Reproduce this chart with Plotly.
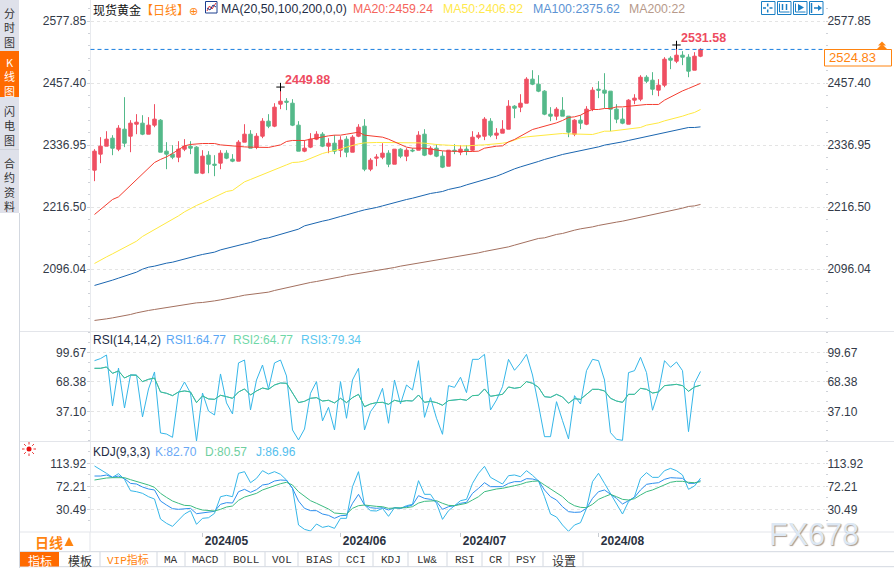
import math
import plotly.graph_objects as go

W, H = 894, 568

# ---- price data ----
opens = [2288.4, 2319.5, 2335.0, 2350.5, 2329.2, 2368.0, 2354.4, 2377.7, 2379.7, 2358.3, 2375.8, 2385.5, 2325.3, 2319.5, 2313.6, 2329.2, 2335.0, 2333.1, 2282.5, 2317.5, 2300.0, 2302.0, 2321.4, 2309.7, 2305.9, 2342.8, 2358.3, 2333.1, 2354.4, 2383.6, 2373.9, 2416.6, 2422.4, 2418.5, 2375.8,
         2325.3, 2333.1, 2348.6, 2358.3, 2335.0, 2340.8, 2327.2, 2348.6, 2323.3, 2354.4, 2373.9, 2290.3, 2311.7, 2313.6, 2321.4, 2300.0, 2329.2, 2315.6, 2327.2, 2327.2, 2358.3, 2319.5, 2331.1, 2315.6, 2296.1, 2327.2, 2323.3, 2329.2, 2327.2, 2352.5, 2354.4, 2383.6, 2356.4, 2360.3, 2368.0, 2412.7, 2410.8, 2418.5, 2465.2, 2455.4, 2441.9, 2397.2, 2393.3, 2405.0, 2393.3, 2358.3, 2385.5, 2377.7, 2406.9, 2445.7,
         2443.8, 2441.9, 2406.9, 2387.5, 2377.7, 2424.4, 2426.3, 2469.0, 2463.2, 2443.8, 2453.5, 2506.0, 2500.1, 2511.8, 2507.9, 2482.6, 2509.8]
highs = [2329.2, 2352.5, 2364.1, 2356.4, 2375.8, 2430.2, 2385.5, 2397.2, 2395.2, 2391.4, 2416.6, 2387.5, 2342.8, 2336.9, 2344.7, 2348.6, 2344.7, 2335.0, 2327.2, 2325.3, 2317.5, 2327.2, 2327.2, 2319.5, 2346.7, 2377.7, 2366.1, 2360.3, 2389.4, 2397.2, 2418.5, 2449.88, 2428.3, 2426.3, 2383.6,
         2346.7, 2360.3, 2364.1, 2362.2, 2350.5, 2356.4, 2354.4, 2354.4, 2356.4, 2377.7, 2387.5, 2311.7, 2319.5, 2340.8, 2327.2, 2329.2, 2331.1, 2331.1, 2331.1, 2364.1, 2368.0, 2335.0, 2338.9, 2325.3, 2327.2, 2338.9, 2336.9, 2336.9, 2364.1, 2362.2, 2391.4, 2389.4, 2370.0, 2385.5, 2424.4, 2414.7, 2436.0, 2469.0, 2482.6, 2472.9, 2443.8, 2410.8, 2410.8, 2430.2, 2393.3, 2387.5, 2395.2, 2412.7, 2449.6, 2461.3,
         2476.8, 2441.9, 2416.6, 2408.8, 2426.3, 2436.0, 2472.9, 2472.9, 2478.8, 2465.2, 2507.9, 2509.8, 2531.58, 2519.6, 2513.7, 2517.6, 2525.4]
lows = [2267.0, 2302.0, 2335.0, 2317.5, 2325.3, 2333.1, 2323.3, 2358.3, 2356.4, 2358.3, 2371.9, 2323.3, 2290.3, 2309.7, 2303.9, 2325.3, 2319.5, 2282.5, 2280.6, 2282.5, 2276.7, 2290.3, 2309.7, 2303.9, 2305.9, 2342.8, 2331.1, 2329.2, 2350.5, 2370.0, 2371.9, 2406.9, 2405.0, 2373.9, 2325.3,
        2323.3, 2331.1, 2346.7, 2333.1, 2321.4, 2319.5, 2313.6, 2313.6, 2323.3, 2352.5, 2286.4, 2286.4, 2296.1, 2309.7, 2294.2, 2300.0, 2311.7, 2305.9, 2323.3, 2327.2, 2315.6, 2317.5, 2313.6, 2292.3, 2296.1, 2319.5, 2317.5, 2317.5, 2325.3, 2348.6, 2346.7, 2352.5, 2348.6, 2360.3, 2368.0, 2389.4, 2401.1, 2418.5, 2453.5, 2439.9, 2395.2, 2383.6, 2385.5, 2393.3, 2352.5, 2354.4, 2368.0, 2375.8, 2403.0, 2428.3,
        2408.8, 2364.1, 2379.7, 2377.7, 2377.7, 2416.6, 2422.4, 2457.4, 2434.1, 2432.1, 2449.6, 2484.6, 2496.3, 2492.4, 2469.0, 2482.6, 2507.9]
closes = [2325.3, 2335.0, 2348.6, 2331.1, 2370.0, 2340.8, 2379.7, 2381.6, 2358.3, 2375.8, 2387.5, 2323.3, 2319.5, 2313.6, 2329.2, 2335.0, 2331.1, 2282.5, 2315.6, 2300.0, 2298.1, 2321.4, 2311.7, 2305.9, 2342.8, 2358.3, 2331.1, 2354.4, 2383.6, 2373.9, 2410.8, 2422.4, 2420.5, 2375.8, 2325.3,
          2331.1, 2348.6, 2358.3, 2335.0, 2340.8, 2325.3, 2346.7, 2323.3, 2352.5, 2371.9, 2290.3, 2307.8, 2313.6, 2321.4, 2300.0, 2329.2, 2315.6, 2327.2, 2325.9, 2356.4, 2317.5, 2331.1, 2315.6, 2294.2, 2327.2, 2325.3, 2329.2, 2325.3, 2352.5, 2356.4, 2387.5, 2356.4, 2360.3, 2368.0, 2412.7, 2408.8, 2418.5, 2465.2, 2455.4, 2441.9, 2397.2, 2393.3, 2406.9, 2393.3, 2362.2, 2385.5, 2379.7, 2406.9, 2443.8, 2443.8,
          2438.0, 2406.9, 2387.5, 2379.7, 2424.4, 2428.3, 2469.0, 2461.3, 2445.7, 2453.5, 2504.0, 2502.1, 2511.8, 2507.9, 2480.7, 2509.8, 2523.0]

ma20 = [2202.3, 2212.0, 2222.3, 2231.4, 2236.5, 2247.6, 2259.2, 2270.9, 2282.0, 2291.7, 2303.3, 2309.2, 2314.2, 2320.8, 2328.6, 2335.6, 2338.3, 2339.5, 2340.2, 2340.2, 2340.2, 2337.5, 2336.4, 2334.4, 2334.4, 2333.6, 2333.1, 2332.5, 2332.5, 2332.5, 2335.0, 2337.5, 2344.1, 2346.1, 2346.1,
        2346.1, 2348.6, 2351.1, 2353.1, 2355.0, 2356.4, 2356.4, 2358.3, 2360.3, 2362.2, 2356.4, 2355.0, 2354.4, 2352.5, 2348.6, 2343.4, 2338.9, 2333.1, 2331.1, 2331.1, 2331.1, 2329.2, 2327.2, 2325.9, 2325.3, 2324.7, 2324.7, 2324.7, 2324.7, 2325.3, 2331.1, 2333.1, 2335.0, 2335.6, 2343.4, 2348.0, 2354.4, 2361.6, 2367.4, 2370.6, 2373.9, 2375.8, 2380.3, 2384.9, 2390.8, 2392.0, 2395.2, 2401.6, 2406.3, 2406.3,
        2408.2, 2408.2, 2411.3, 2411.3, 2412.7, 2414.1, 2416.0, 2416.0, 2416.0, 2416.0, 2424.4, 2430.8, 2436.0, 2442.4, 2447.1, 2451.6, 2457.0]
ma50 = [2107.1, 2114.1, 2119.9, 2125.8, 2131.6, 2138.2, 2143.3, 2150.4, 2159.6, 2166.0, 2173.2, 2179.6, 2186.0, 2193.2, 2199.6, 2207.4, 2214.0, 2219.8, 2224.9, 2230.7, 2236.5, 2241.8, 2247.0, 2249.0, 2257.3, 2265.7, 2270.3, 2274.8, 2280.0, 2285.1, 2289.8, 2293.6, 2298.7, 2303.3, 2303.9,
        2306.4, 2311.1, 2315.6, 2320.8, 2323.9, 2325.9, 2329.2, 2333.1, 2337.0, 2339.5, 2341.4, 2342.2, 2342.2, 2342.2, 2342.2, 2342.8, 2341.4, 2341.4, 2341.4, 2341.4, 2340.8, 2338.9, 2338.3, 2337.5, 2336.4, 2336.4, 2335.6, 2335.6, 2335.6, 2337.0, 2337.5, 2338.3, 2339.5, 2340.8, 2342.8, 2346.7, 2351.1, 2353.1, 2354.4, 2355.8, 2356.4, 2358.3, 2359.7, 2359.7, 2358.9, 2358.3, 2358.3, 2357.7, 2357.7, 2360.8,
        2364.1, 2364.1, 2365.5, 2366.1, 2367.4, 2369.4, 2371.3, 2375.8, 2377.7, 2380.3, 2384.2, 2386.9, 2390.0, 2393.3, 2397.2, 2400.5, 2406.3]
ma100 = [2064.4, 2067.5, 2071.4, 2074.7, 2078.6, 2082.4, 2086.3, 2090.2, 2096.0, 2099.9, 2101.9, 2105.2, 2107.7, 2109.6, 2113.0, 2116.0, 2119.4, 2121.9, 2124.6, 2126.5, 2129.1, 2133.5, 2136.8, 2138.8, 2142.1, 2145.2, 2147.9, 2151.8, 2154.9, 2156.9, 2160.2, 2164.0, 2166.6, 2169.9, 2173.8,
         2180.2, 2183.5, 2186.0, 2189.3, 2191.8, 2195.7, 2198.4, 2201.5, 2204.2, 2208.1, 2211.2, 2213.2, 2215.9, 2219.0, 2222.3, 2225.6, 2228.1, 2231.4, 2233.9, 2237.3, 2239.8, 2243.1, 2245.0, 2247.0, 2250.9, 2252.8, 2255.9, 2259.8, 2263.1, 2266.4, 2269.5, 2274.2, 2276.7,
         2281.2, 2286.4, 2290.9, 2294.8, 2298.1, 2300.6, 2305.3, 2309.2, 2313.0, 2315.6, 2318.9, 2321.4, 2323.9, 2325.3, 2327.8, 2331.1, 2333.6, 2337.0, 2338.9, 2341.4, 2343.4, 2346.1, 2348.6, 2351.1, 2353.9, 2357.0, 2359.7, 2362.2, 2363.6, 2366.1, 2369.4, 2371.3, 2371.3, 2372.5]
ma200 = [1996.4, 1997.5, 1999.5, 2001.4, 2003.4, 2005.3, 2008.0, 2011.1, 2013.9, 2015.8, 2017.7, 2019.7, 2020.9, 2022.8, 2025.5, 2028.0, 2029.4, 2030.6, 2031.3, 2032.5, 2034.4, 2036.4, 2038.3, 2041.0, 2043.0, 2045.5, 2046.9, 2048.1, 2050.0, 2051.4, 2054.6, 2057.2, 2059.7, 2062.4, 2065.5,
         2068.9, 2070.2, 2072.1, 2074.1, 2076.6, 2078.6, 2081.1, 2083.8, 2085.7, 2087.7, 2088.9, 2090.8, 2092.7, 2094.7, 2097.4, 2099.3, 2101.9, 2103.8, 2105.8, 2107.7, 2109.1, 2111.0, 2113.5, 2114.9, 2117.4, 2118.8, 2121.3, 2122.6, 2124.6, 2127.7, 2130.4, 2132.4, 2134.9,
         2137.4, 2139.4, 2142.7, 2146.0, 2148.5, 2152.4, 2155.7, 2156.9, 2160.8, 2163.5, 2165.4, 2169.3, 2171.8, 2174.4, 2175.7, 2178.2, 2181.0, 2183.5, 2186.0, 2187.4, 2189.3, 2191.8, 2193.8, 2196.5, 2199.6, 2201.5, 2203.5, 2206.2, 2209.3, 2212.0, 2214.6, 2217.9, 2219.0, 2221.8]

rsi2 = [82.7, 82.7, 84.1, 77.4, 79.9, 72.4, 75.6, 75.3, 68.6, 71.0, 72.4, 57.6, 56.2, 53.7, 57.6, 58.7, 57.6, 46.3, 53.4, 50.2, 49.8, 54.1, 52.6, 50.9, 57.6, 60.8, 54.4, 58.7, 61.8, 60.4, 65.0, 67.1, 66.8, 56.2, 46.3,
        47.7, 50.9, 51.6, 48.0, 48.8, 46.0, 50.9, 46.3, 51.6, 55.1, 42.0, 44.9, 46.3, 46.6, 44.5, 48.8, 47.3, 48.4, 48.0, 54.4, 46.6, 47.7, 46.3, 43.5, 48.4, 48.8, 49.8, 48.8, 53.7, 54.1, 60.8, 53.0, 54.4, 55.1, 62.9, 61.5, 62.5, 68.6, 66.8, 62.5, 52.6, 51.9, 55.1, 52.3, 45.6, 50.5, 49.8, 55.5, 60.4, 60.4,
        58.7, 50.9, 48.0, 46.6, 55.1, 55.1, 61.5, 60.4, 56.5, 57.6, 64.3, 65.0, 65.7, 64.3, 58.3, 62.9, 64.77]
rsi3 = [90.8, 93.0, 96.8, 42.7, 83.0, 40.6, 75.6, 75.6, 31.1, 60.8, 78.8, 14.1, 13.0, 9.5, 56.5, 68.2, 56.5, 5.6, 56.5, 37.4, 33.2, 76.7, 46.0, 34.3, 88.4, 91.5, 38.5, 70.3, 86.2, 60.8, 88.4, 91.5, 74.6, 17.3, 6.7,
        18.3, 56.2, 68.6, 26.9, 41.3, 17.3, 68.6, 29.7, 70.3, 82.7, 17.3, 36.7, 45.6, 61.5, 24.4, 70.3, 44.9, 65.0, 59.7, 90.8, 30.7, 51.6, 29.7, 12.7, 64.3, 62.5, 73.2, 56.9, 92.2, 92.2, 97.5, 38.5, 49.1, 63.2, 92.2, 80.6, 88.0, 97.5, 75.6, 43.8, 10.2, 10.2, 47.3, 27.2, 7.8, 53.7, 44.9, 80.2, 92.2, 90.8,
        70.3, 14.5, 7.4, 6.3, 78.1, 80.2, 94.4, 78.1, 38.2, 58.0, 90.8, 83.8, 89.4, 80.2, 15.5, 66.8, 79.34]

kdj_k = [90.9, 90.9, 92.7, 88.5, 90.9, 86.1, 77.6, 76.4, 71.0, 67.4, 65.6, 45.6, 38.3, 31.7, 30.5, 31.7, 32.3, 22.6, 23.8, 24.4, 26.9, 39.6, 42.6, 42.0, 62.5, 66.8, 61.3, 66.2, 74.6, 76.4, 81.9, 83.7, 83.1, 68.6, 45.6,
         32.3, 28.1, 28.1, 22.0, 19.6, 14.2, 19.0, 19.6, 41.4, 57.7, 38.3, 33.5, 32.3, 33.5, 29.3, 33.5, 32.3, 35.3, 38.3, 55.3, 50.4, 48.6, 44.4, 30.5, 35.3, 37.1, 41.4, 43.2, 59.5, 68.6, 78.8, 71.6, 71.6, 71.6, 77.6, 80.7, 80.7, 86.1, 85.5, 82.5, 65.6, 53.4, 47.4, 35.3, 26.3, 25.0, 25.6, 32.3, 50.4, 62.5,
         65.6, 57.7, 50.4, 40.2, 46.2, 52.2, 65.6, 75.8, 77.6, 78.8, 84.9, 87.9, 87.3, 86.7, 77.6, 77.6, 82.70]
kdj_d = [83.7, 86.1, 87.3, 87.9, 87.9, 87.9, 84.3, 81.3, 78.2, 74.6, 70.4, 59.5, 52.2, 45.6, 41.4, 37.7, 37.1, 32.3, 29.3, 28.1, 27.5, 30.5, 34.7, 36.5, 46.8, 52.8, 55.9, 59.5, 65.6, 69.8, 73.4, 77.0, 79.5, 74.6, 62.5,
         54.7, 46.2, 41.4, 36.5, 31.1, 23.8, 22.6, 22.0, 32.3, 37.1, 38.3, 36.5, 35.9, 35.3, 32.3, 32.9, 32.9, 33.5, 35.3, 41.9, 45.0, 45.6, 46.2, 41.4, 37.7, 37.1, 39.6, 41.4, 47.4, 53.4, 62.5, 65.6, 67.4, 68.6, 71.6, 73.4, 75.8, 79.5, 81.3, 81.9, 74.6, 67.4, 60.7, 53.4, 43.2, 37.1, 34.1, 33.5, 39.6, 48.6,
         53.4, 57.7, 53.4, 48.6, 47.4, 49.8, 56.5, 62.5, 65.6, 70.4, 74.6, 79.5, 81.3, 81.3, 79.5, 78.8, 80.57]
kdj_j = [109.1, 103.0, 95.8, 88.5, 95.2, 84.9, 64.3, 62.5, 59.5, 53.4, 49.2, 12.9, 5.1, -0.4, 11.1, 22.0, 28.1, 3.3, 14.2, 15.3, 23.2, 53.4, 55.9, 53.4, 95.8, 98.8, 78.8, 86.7, 100.6, 94.6, 98.8, 94.0, 83.7, 68.6, 2.1,
         -5.8, -8.8, 3.9, -2.2, 0.2, -4.0, 14.2, 14.2, 71.6, 98.8, 38.3, 28.1, 27.5, 32.3, 17.8, 33.5, 32.3, 37.1, 39.6, 82.5, 57.7, 57.7, 41.4, 12.3, 28.1, 37.1, 46.2, 48.6, 77.6, 95.8, 108.5, 88.5, 81.9, 76.4, 91.5, 92.8, 89.7, 100.6, 92.2, 81.9, 53.4, 22.0, 16.6, 2.1, -9.4, 2.1, 6.3, 32.3, 80.7, 95.8,
         77.6, 58.3, 41.4, 22.0, 44.4, 53.4, 86.7, 97.0, 88.5, 88.5, 100.6, 104.8, 100.6, 92.7, 66.8, 72.8, 86.96]

days = list(range(len(closes)))
last_price_line = 2523.0
peak_days = [31, 97]
peak_prices = [2449.88, 2531.58]

month_ticks = [18, 41, 61, 84]
month_labels = ["2024/05", "2024/06", "2024/07", "2024/08"]
price_ticks = [2577.85, 2457.40, 2336.95, 2216.50, 2096.04]
price_labels = ["2577.85", "2457.40", "2336.95", "2216.50", "2096.04"]
rsi_ticks = [99.67, 68.38, 37.10]
rsi_labels = ["99.67", "68.38", "37.10"]
kdj_ticks = [113.92, 72.21, 30.49]
kdj_labels = ["113.92", "72.21", "30.49"]

SANS = "Liberation Sans, Arial, Noto Sans CJK SC"
CJK = "Noto Sans CJK SC"
UP, DOWN = "#ef4f62", "#54b98a"
ORANGE = "#ff8410"
LINE = "#e3e5ea"
ICON = "#1a7fc4"


def fx(v):
    return v / W


def fy(v):
    return 1 - v / H


fig = go.Figure()
fig.add_trace(go.Candlestick(
    x=days, open=opens, high=highs, low=lows, close=closes,
    increasing=dict(line=dict(color=UP, width=1), fillcolor=UP),
    decreasing=dict(line=dict(color=DOWN, width=1), fillcolor=DOWN),
    whiskerwidth=0, xaxis="x", yaxis="y",
))
for vals, col in [(ma200, "#a3705f"), (ma100, "#1b66b0"), (ma50, "#ffe93f"), (ma20, "#f43d30")]:
    fig.add_trace(go.Scatter(x=days, y=vals, mode="lines", line=dict(color=col, width=1), xaxis="x", yaxis="y4"))
fig.add_trace(go.Scatter(x=peak_days, y=peak_prices, mode="markers", xaxis="x", yaxis="y4",
                         marker=dict(symbol="cross-thin", size=6, line=dict(color="#000000", width=1))))

fig.add_trace(go.Scatter(x=days, y=rsi3, mode="lines", line=dict(color="#35b6e8", width=1), xaxis="x2", yaxis="y2"))
fig.add_trace(go.Scatter(x=days, y=rsi2, mode="lines", line=dict(color="#5aa7f5", width=1), xaxis="x2", yaxis="y5"))
fig.add_trace(go.Scatter(x=days, y=rsi2, mode="lines", line=dict(color="#3cc48a", width=1), xaxis="x2", yaxis="y5"))

fig.add_trace(go.Scatter(x=days, y=kdj_j, mode="lines", line=dict(color="#35b6e8", width=1), xaxis="x3", yaxis="y3"))
fig.add_trace(go.Scatter(x=days, y=kdj_k, mode="lines", line=dict(color="#2e8fee", width=1), xaxis="x3", yaxis="y6"))
fig.add_trace(go.Scatter(x=days, y=kdj_d, mode="lines", line=dict(color="#3cbb80", width=1), xaxis="x3", yaxis="y6"))

x_common = dict(domain=[fx(90.5), fx(825)], range=[-0.667, 121.75], showgrid=False, zeroline=False,
                showline=False, ticks="", showticklabels=False)
tick_font = dict(family=SANS, size=12, color="#333a48")


def left_axis(rng, dom, vals, labels, minor_step, anchor):
    return dict(domain=dom, range=rng, tickvals=vals, ticktext=labels, anchor=anchor, side="left",
                tickfont=tick_font, showgrid=True, griddash="dot", gridcolor="#e4e4e4", gridwidth=1,
                zeroline=False, showline=True, linecolor="#e8eaee", linewidth=1,
                ticks="outside", ticklen=3, tickcolor="#cfd2d8", ticklabelstandoff=-2,
                minor=dict(dtick=minor_step, tick0=vals[0], ticks="outside", ticklen=2, tickcolor="#cfd2d8", showgrid=False))


def right_axis(rng, over, vals, labels, minor_step, anchor):
    return dict(range=rng, overlaying=over, side="right", anchor=anchor, tickvals=vals, ticktext=labels,
                tickfont=tick_font, showgrid=False, zeroline=False, showline=False,
                ticks="outside", ticklen=2, tickcolor="#cfd2d8", ticklabelstandoff=-3,
                minor=dict(dtick=minor_step, tick0=vals[0], ticks="outside", ticklen=2, tickcolor="#cfd2d8", showgrid=False))


price_range = [1975.9, 2619.0]
rsi_range = [5.6, 121.2]
kdj_range = [-10.6, 152.6]

# ---- page furniture, all in pixel coordinates of the window ----
shapes = []
texts = []


def rect(x0, y0, x1, y1, fill=None, line=None, width=1):
    shapes.append(dict(type="rect", xref="paper", yref="paper", x0=fx(x0), x1=fx(x1), y0=fy(y0), y1=fy(y1),
                       fillcolor=fill or "rgba(0,0,0,0)", line=dict(color=line or "rgba(0,0,0,0)", width=width if line else 0)))


def seg(x0, y0, x1, y1, color=LINE, width=1):
    shapes.append(dict(type="line", xref="paper", yref="paper", x0=fx(x0), x1=fx(x1), y0=fy(y0), y1=fy(y1),
                       line=dict(color=color, width=width)))


def poly(points, fill=None, line=None, width=1):
    d = "M " + " L ".join(f"{fx(a):.5f},{fy(b):.5f}" for a, b in points)
    shapes.append(dict(type="path", xref="paper", yref="paper", path=d + (" Z" if fill else ""),
                       fillcolor=fill or "rgba(0,0,0,0)", line=dict(color=line or "rgba(0,0,0,0)", width=width if line else 0)))


def text(x, y, s, color="#222222", size=13, anchor="left", family=SANS, bold=False, **kw):
    texts.append(dict(xref="paper", yref="paper", x=fx(x), y=fy(y), text=s, showarrow=False, xanchor=anchor,
                      yanchor="middle", borderpad=0, font=dict(family=family, size=size, color=color, weight=700 if bold else 400, **kw)))


# left tab strip
rect(0, 0, 19, 213, fill="#dfe1ea")
rect(0, 51, 19, 97, fill="#ff6a00")
seg(0, 149.5, 19, 149.5, "#cfd2da")
seg(19.5, 213, 19.5, 568, "#d3d8e0")
text(9.5, 27.5, "分<br>时<br>图", color="#333333", size=11, anchor="center", family=CJK)
text(9.5, 76, "K<br>线<br>图", color="#ffffff", size=11, anchor="center", family=CJK)
text(9.5, 125.5, "闪<br>电<br>图", color="#333333", size=11, anchor="center", family=CJK)
text(9.5, 184, "合<br>约<br>资<br>料", color="#333333", size=11, anchor="center", family=CJK)

# panel separators
seg(20, 331.5, 894, 331.5)
seg(20, 441.5, 894, 441.5)
seg(20, 532, 894, 532)
seg(20, 551.7, 894, 551.7, "#d3d8e0")
seg(20, 566.7, 894, 566.7, "#d3d8e0")
seg(90, 532, 90, 551.7)

# header row
text(92, 9, "现货黄金", color="#111111", size=12, family=CJK)
text(140, 9, "【日线】", color=ORANGE, size=12, family=CJK)
text(193.5, 11, "⊕", color=ORANGE, size=11, anchor="center", family="DejaVu Sans")
rect(205.5, 1.5, 217, 13, fill="#ffffff", line="#1c3f8f")
poly([(207, 11), (209.5, 6), (212, 9), (216, 3)], line="#e03030")
poly([(207, 8), (210, 10), (213, 5), (216, 7)], line="#1c3f8f")
text(220, 9, "MA(20,50,100,200,0,0)", color="#1d2b44", size=12.3)
text(352, 9, "MA20:2459.24", color="#f5655c", size=12.3)
text(442, 9, "MA50:2406.92", color="#ffe94d", size=12.3)
text(532, 9, "MA100:2375.62", color="#5b93d4", size=12.3)
text(628, 9, "MA200:22", color="#b79a8a", size=12.3)

# top right icon buttons
for x0 in [761, 777, 793, 809]:
    rect(x0 + 0.5, 1.5, x0 + 14, 14.5, fill="#ffffff", line=ICON)
seg(767.7, 3.5, 767.7, 6.5, ICON, 1.5)
seg(767.7, 9.5, 767.7, 12.5, ICON, 1.5)
seg(763, 8, 766, 8, ICON, 1.5)
seg(769.5, 8, 772.5, 8, ICON, 1.5)
poly([(779.5, 3.5), (779.5, 12), (789.5, 12)], line=ICON)
seg(782.5, 4, 782.5, 10, ICON, 1.5)
seg(786.5, 4, 786.5, 10, ICON, 1.5)
poly([(795.5, 3.5), (795.5, 12), (805.5, 12)], line=ICON)
poly([(798, 4), (804, 7.5), (798, 11)], fill=ICON)
seg(811.5, 3, 811.5, 13, ICON, 1.5)
seg(814, 8, 819, 8, ICON, 1.5)
poly([(818, 5), (822, 8), (818, 11)], fill=ICON)

# last price flag
rect(824.5, 49.5, 891.5, 66, fill="#ffffff", line=ORANGE)
text(827.5, 58, "2524.83", color=ORANGE, size=13)
poly([(882, 41.5), (886, 45.5), (878, 45.5)], fill=ORANGE)
poly([(882, 44), (887, 49), (877, 49)], fill=ORANGE)

# indicator captions
text(92, 340, "RSI(14,14,2)", color="#1d2b44", size=12)
text(165, 340, "RSI1:64.77", color="#5aa7f5", size=12)
text(232, 340, "RSI2:64.77", color="#6fd8a8", size=12)
text(300, 340, "RSI3:79.34", color="#5cc8f0", size=12)
text(92, 451.5, "KDJ(9,3,3)", color="#1d2b44", size=12)
text(154, 451.5, "K:82.70", color="#6aa8f5", size=12)
text(204, 451.5, "D:80.57", color="#6fcf9f", size=12)
text(255, 451.5, "J:86.96", color="#55c0ee", size=12)

# sun button
for k in range(8):
    a = k * math.pi / 4
    seg(29 + 4.5 * math.cos(a), 449 + 4.5 * math.sin(a), 29 + 7 * math.cos(a), 449 + 7 * math.sin(a), "#e83030", 1)
shapes.append(dict(type="circle", xref="paper", yref="paper", x0=fx(26.5), x1=fx(31.5), y0=fy(451.5), y1=fy(446.5),
                   fillcolor="#e81010", line=dict(color="#e81010", width=0)))

# period selector and bottom toolbar
text(34, 542, "日线", color=ORANGE, size=14, family=CJK, bold=True)
poly([(69, 537), (73.5, 546), (64.5, 546)], fill=ORANGE)
rect(20, 552, 59, 566.5, fill="#ff6a00")
tool_items = [("指标", 39.5, "#ffffff", CJK), ("模板", 79.5, "#333333", CJK), ("VIP指标", 128, ORANGE, "Liberation Mono, " + CJK),
              ("MA", 171, "#333333", "Liberation Mono"), ("MACD", 205, "#333333", "Liberation Mono"), ("BOLL", 246, "#333333", "Liberation Mono"),
              ("VOL", 282, "#333333", "Liberation Mono"), ("BIAS", 319, "#333333", "Liberation Mono"), ("CCI", 356, "#333333", "Liberation Mono"),
              ("KDJ", 391, "#333333", "Liberation Mono"), ("LW&", 427, "#333333", "Liberation Mono"), ("RSI", 465, "#333333", "Liberation Mono"),
              ("CR", 496, "#333333", "Liberation Mono"), ("PSY", 526, "#333333", "Liberation Mono"), ("设置", 564, "#333333", CJK)]
for name, x, col, fam in tool_items:
    text(x, 560, name, color=col, size=12 if fam == CJK else 11, anchor="center", family=fam)
for x in [100, 157, 185, 225, 265, 298, 339, 373, 408, 447, 482, 509, 543, 583]:
    seg(x, 552, x, 566.5, "#d3d8e0")

# watermark
text(814, 533.5, "FX678", color="#dde8f4", size=30.5, anchor="center", shadow="1px 1px 1px #a89a90")

# high price tags sit on the data
for d, p in zip(peak_days, peak_prices):
    texts.append(dict(xref="x", yref="y", x=d, y=p, text=f"{p:.2f}", showarrow=False, xanchor="left", yanchor="middle",
                      xshift=2, yshift=7, font=dict(family=SANS, size=12.5, color="#ee4b60", weight=700)))

# last price dashed line
shapes.append(dict(type="line", xref="x domain", yref="y", x0=0, x1=1, y0=last_price_line, y1=last_price_line,
                   line=dict(color="#1a7fe0", width=1, dash="4px,3px")))

fig.update_layout(
    width=W, height=H, margin=dict(l=0, r=0, t=0, b=0), paper_bgcolor="#ffffff", plot_bgcolor="#ffffff",
    showlegend=False, hovermode=False, boxgap=0.17,
    xaxis=dict(rangeslider=dict(visible=False), anchor="y", **x_common),
    xaxis2=dict(anchor="y2", **x_common),
    xaxis3=dict(anchor="y3", **{**x_common, "showticklabels": True, "ticks": "outside", "ticklen": 4, "tickcolor": "#c8ccd2"},
                tickvals=month_ticks, ticktext=month_labels, ticklabelshift=24, ticklabelstandoff=-6,
                tickfont=dict(family=SANS, size=12, color="#2a3140", weight=700)),
    yaxis=left_axis(price_range, [fy(331), 1], price_ticks, price_labels, 24.09, "x"),
    yaxis2=left_axis(rsi_range, [fy(441), fy(332)], rsi_ticks, rsi_labels, 10.43, "x2"),
    yaxis3=left_axis(kdj_range, [fy(532), fy(442)], kdj_ticks, kdj_labels, 20.86, "x3"),
    yaxis4=right_axis(price_range, "y", price_ticks, price_labels, 24.09, "x"),
    yaxis5=right_axis(rsi_range, "y2", rsi_ticks, rsi_labels, 10.43, "x2"),
    yaxis6=right_axis(kdj_range, "y3", kdj_ticks, kdj_labels, 20.86, "x3"),
    shapes=shapes, annotations=texts,
)

fig.write_html("out.html", config=dict(displayModeBar=False), post_script="document.body.style.margin='0';")
